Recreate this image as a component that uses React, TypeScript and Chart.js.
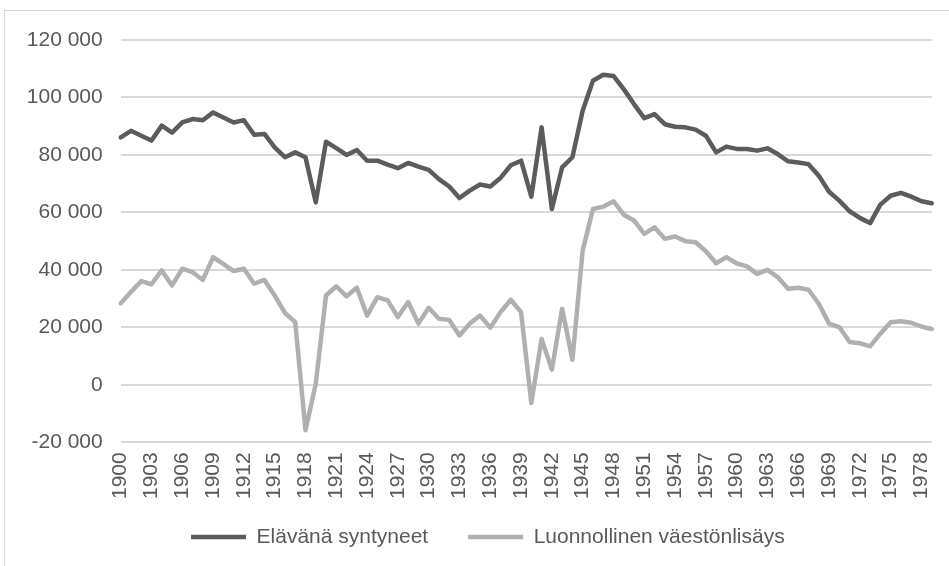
import React, { useEffect, useRef } from "react";
import { Chart, registerables } from "chart.js";

Chart.register(...registerables);

const years: string[] = [];
for (let y = 1900; y <= 1979; y++) years.push(String(y));

const births = [
  86100, 88400, 86700, 85000, 90200, 87800, 91300, 92500, 92100, 94800,
  93000, 91300, 92100, 87000, 87300, 82600, 79200, 80900, 79200, 63500,
  84600, 82400, 80000, 81700, 78000, 78000, 76600, 75400, 77200, 75900,
  74800, 71600, 69000, 65000, 67600, 69700, 69000, 72000, 76400, 78000,
  65500, 89600, 61200, 75700, 79200, 95400, 105800, 107900, 107500, 102900,
  97700, 92800, 94200, 90700, 89800, 89600, 88800, 86700, 80900, 82900,
  82100, 82100, 81500, 82300, 80300, 77800, 77400, 76800, 72800, 67200,
  64100, 60400, 58100, 56300, 62700, 65800, 66800, 65500, 63900, 63200,
];

const naturalIncrease = [
  28400, 32300, 36100, 35000, 39800, 34600, 40400, 39200, 36500, 44400,
  42100, 39600, 40400, 35200, 36500, 31100, 25000, 21800, -15800, 400,
  31100, 34300, 30800, 33800, 24100, 30500, 29400, 23600, 28800, 21300,
  26800, 23000, 22600, 17200, 21300, 24100, 19900, 25300, 29600, 25300,
  -6300, 16000, 5300, 26500, 8700, 46700, 61200, 62000, 63900, 59200,
  57200, 52500, 54800, 50800, 51600, 50000, 49600, 46500, 42300, 44400,
  42300, 41200, 38600, 40000, 37500, 33400, 33800, 33100, 28200, 21300,
  20100, 14900, 14500, 13400, 17800, 21800, 22100, 21600, 20300, 19400,
];

const seriesNames = ["Elävänä syntyneet", "Luonnollinen väestönlisäys"];

const fmt = (v: number) =>
  String(v).replace(/\B(?=(\d{3})+(?!\d))/g, " ");

// Moves the legend box after layout so it sits where the reference has it.
const legendShift = {
  id: "legendShift",
  afterLayout(chart: any) {
    const l = chart.legend;
    if (!l) return;
    const dx = 22;
    const dy = -15.8;
    l.left += dx;
    l.right += dx;
    l.top += dy;
    l.bottom += dy;
  },
};

export default function App() {
  const ref = useRef<HTMLCanvasElement | null>(null);
  useEffect(() => {
    document.body.style.overflow = "hidden";
    const font = { family: "'Liberation Sans', Arial, sans-serif", size: 21 };
    const chart = new Chart(ref.current!, {
      type: "line",
      data: {
        labels: years,
        datasets: [
          {
            label: seriesNames[0],
            data: births,
            borderColor: "#5c5c5c",
            backgroundColor: "#5c5c5c",
            borderWidth: 4.5,
            pointRadius: 0,
            tension: 0,
            borderCapStyle: "round",
            borderJoinStyle: "round",
          },
          {
            label: seriesNames[1],
            data: naturalIncrease,
            borderColor: "#b0b0b0",
            backgroundColor: "#b0b0b0",
            borderWidth: 4.5,
            pointRadius: 0,
            tension: 0,
            borderCapStyle: "round",
            borderJoinStyle: "round",
          },
        ],
      },
      plugins: [legendShift],
      options: {
        animation: false,
        responsive: false,
        maintainAspectRatio: false,
        layout: { padding: { left: 0, right: 17.3, top: 40, bottom: -7.3 } },
        plugins: {
          tooltip: { enabled: false },
          legend: {
            position: "bottom",
            labels: {
              usePointStyle: true,
              pointStyle: "line",
              pointStyleWidth: 55,
              padding: 40,
              color: "#595959",
              font,
            },
          },
        },
        scales: {
          x: {
            offset: false,
            grid: { display: false, drawTicks: false },
            border: { display: false },
            afterFit: (s: any) => {
              s.height = 60;
              s.paddingLeft = 0;
              s.paddingRight = 0;
            },
            ticks: {
              autoSkip: false,
              minRotation: 90,
              maxRotation: 90,
              padding: 10,
              color: "#595959",
              font,
              callback: function (this: any, val: any, idx: number) {
                return idx % 3 === 0 ? years[idx] : "";
              },
            },
          },
          y: {
            min: -20000,
            max: 120000,
            grid: { color: "#d9d9d9", lineWidth: 2, drawTicks: false },
            border: { display: false },
            afterFit: (s: any) => {
              s.width = 120.7;
            },
            ticks: {
              stepSize: 20000,
              padding: 18,
              color: "#595959",
              font,
              callback: (v: any) => fmt(Number(v)),
            },
          },
        },
      },
    });
    return () => chart.destroy();
  }, []);
  return (
    <>
      <div
        style={{
          position: "fixed",
          left: 4,
          top: 10,
          right: 0,
          bottom: 0,
          borderLeft: "1px solid #d6d6d6",
          borderTop: "1px solid #d6d6d6",
        }}
      />
      <canvas
        ref={ref}
        width={949}
        height={566}
        style={{ position: "fixed", left: 0, top: 0, width: 949, height: 566 }}
      />
    </>
  );
}
